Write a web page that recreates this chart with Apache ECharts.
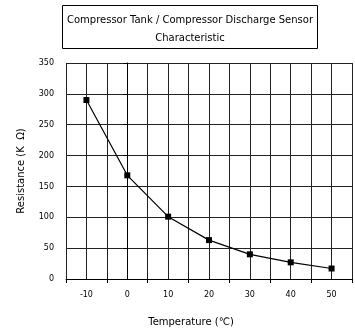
<!DOCTYPE html>
<html>
<head>
<meta charset="utf-8">
<script src="https://cdn.jsdelivr.net/npm/echarts@6/dist/echarts.min.js"></script>
<style>
  html, body { margin: 0; padding: 0; background: #fff; }
  #chart { width: 355px; height: 332px; }
</style>
</head>
<body>
<div id="chart"></div>
<script>
// Sensor resistance curve
const temperatures = [-10, 0, 10, 20, 30, 40, 50];
const resistances = [290, 168, 101, 63, 40, 27, 17];
const xTickLabels = [-10, 0, 10, 20, 30, 40, 50];
const xTickMarks = [-15, -5, 5, 15, 25, 35, 45, 55];
const titleLines = ['Compressor Tank / Compressor Discharge Sensor', 'Characteristic'];

const FONT = 'DejaVu Sans';
const chart = echarts.init(document.getElementById('chart'), null, { renderer: 'canvas' });

chart.setOption({
  animation: false,
  backgroundColor: '#fff',
  textStyle: { fontFamily: FONT },
  grid: { left: 66, right: 3, top: 63, bottom: 52, containLabel: false },
  graphic: [
    {
      type: 'rect',
      shape: { x: 62.5, y: 5.5, width: 255, height: 43 },
      style: { fill: '#fff', stroke: '#000', lineWidth: 1 }
    },
    {
      type: 'text',
      x: 190, y: 20,
      style: { text: titleLines[0], font: '10px "' + FONT + '"', fill: '#000', align: 'center', verticalAlign: 'middle' }
    },
    {
      type: 'text',
      x: 190, y: 38,
      style: { text: titleLines[1], font: '10px "' + FONT + '"', fill: '#000', align: 'center', verticalAlign: 'middle' }
    }
  ],
  xAxis: [
    {
      // labelled axis: labels at the decades, ticks between them
      type: 'value',
      min: -15, max: 55, interval: 5,
      name: 'Temperature (℃)',
      nameLocation: 'middle',
      nameGap: 38,
      nameTextStyle: { fontSize: 10, color: '#000', fontFamily: FONT, padding: [0, 36, 0, 0] },
      axisLine: { show: true, lineStyle: { color: '#000', width: 1 } },
      axisTick: { show: true, length: 4, customValues: xTickMarks, lineStyle: { color: '#000' } },
      axisLabel: { fontSize: 8, color: '#000', margin: 12, customValues: xTickLabels, fontFamily: FONT },
      splitLine: { show: false }
    },
    {
      // grid-only axis: vertical lines every 5 degrees
      type: 'value',
      position: 'top',
      min: -15, max: 55, interval: 5,
      axisLine: { show: false },
      axisTick: { show: false },
      axisLabel: { show: false },
      splitLine: { show: true, lineStyle: { color: '#222', width: 1 } }
    }
  ],
  yAxis: {
    type: 'value',
    min: 0, max: 350, interval: 50,
    name: 'Resistance (K  Ω)',
    nameLocation: 'middle',
    nameGap: 40,
    nameTextStyle: { fontSize: 10, color: '#000', fontFamily: FONT },
    axisLine: { show: true, lineStyle: { color: '#000', width: 1 } },
    axisTick: { show: true, length: 4, lineStyle: { color: '#000' } },
    axisLabel: { fontSize: 8, color: '#000', margin: 12, fontFamily: FONT },
    splitLine: { show: true, lineStyle: { color: '#222', width: 1 } }
  },
  series: [{
    type: 'line',
    xAxisIndex: 0,
    data: temperatures.map((t, i) => [t, resistances[i]]),
    smooth: false,
    symbol: 'rect',
    symbolSize: 6,
    itemStyle: { color: '#000' },
    lineStyle: { color: '#000', width: 1.2 }
  }]
});
</script>
</body>
</html>
